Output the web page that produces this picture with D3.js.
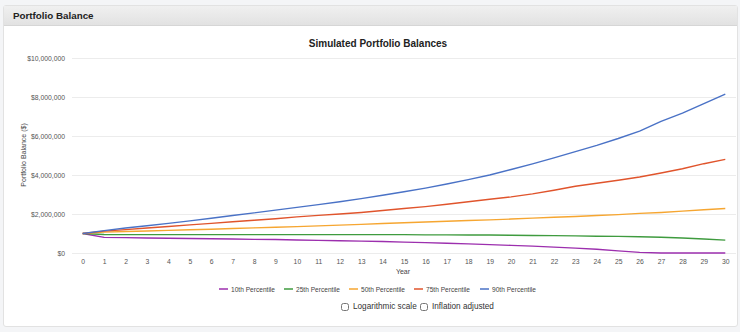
<!DOCTYPE html>
<html><head><meta charset="utf-8">
<script src="https://cdn.jsdelivr.net/npm/d3@7"></script>
<style>
html,body{margin:0;padding:0;background:#f4f5f7;font-family:"Liberation Sans",Arial,Helvetica,sans-serif;}
#wrap{position:relative;width:740px;height:332px;overflow:hidden;}
#panel{position:absolute;left:3px;top:5px;width:733px;height:320px;background:#fff;border:1px solid #e2e2e2;border-radius:3px;}
#head{position:absolute;left:0;top:0;width:733px;height:19px;background:linear-gradient(#f0f0f0,#e2e2e2);border-bottom:1px solid #d6d6d6;}
#head span{position:absolute;left:9px;top:4px;font-size:9.8px;font-weight:bold;color:#222;}
svg{position:absolute;left:0;top:0;}
.cb{position:absolute;top:302px;font-size:8.2px;color:#333;display:flex;align-items:center;white-space:nowrap;}
.cb input{margin:0 4px 0 0;width:8px;height:8px;}
</style></head>
<body><div id="wrap"><div id="panel"><div id="head"><span>Portfolio Balance</span></div></div>
<svg id="chart" width="740" height="332"></svg>
<label class="cb" style="left:341px"><input type="checkbox">Logarithmic scale</label>
<label class="cb" style="left:420px"><input type="checkbox">Inflation adjusted</label>
</div>
<script>
const years = d3.range(0, 31);
const yTicks = [0, 2000000, 4000000, 6000000, 8000000, 10000000];
const seriesNames = ["10th Percentile","25th Percentile","50th Percentile","75th Percentile","90th Percentile"];
const seriesColors = ["#9c2fae","#3f9b3f","#f6a631","#e0542c","#4a72c6"];
const p10 = [1.0,0.8,0.79,0.77,0.76,0.74,0.73,0.72,0.7,0.69,0.67,0.65,0.63,0.61,0.59,0.56,0.53,0.5,0.47,0.43,0.39,0.35,0.3,0.25,0.19,0.11,0.03,0,0,0,0];
const p25 = [1.0,0.95,0.94,0.94,0.94,0.94,0.94,0.94,0.94,0.94,0.94,0.94,0.94,0.94,0.94,0.94,0.93,0.93,0.92,0.92,0.91,0.9,0.89,0.88,0.86,0.85,0.83,0.81,0.77,0.72,0.66];
const p50 = [1.0,1.07,1.1,1.13,1.16,1.19,1.22,1.26,1.29,1.32,1.35,1.39,1.43,1.47,1.51,1.55,1.59,1.63,1.67,1.7,1.74,1.79,1.83,1.87,1.92,1.97,2.03,2.08,2.15,2.22,2.28];
const p75 = [1.0,1.12,1.2,1.28,1.36,1.44,1.52,1.6,1.68,1.76,1.85,1.93,2.0,2.08,2.18,2.28,2.38,2.5,2.63,2.76,2.88,3.03,3.22,3.42,3.58,3.73,3.9,4.1,4.32,4.58,4.8];
const p90 = [1.0,1.15,1.28,1.4,1.52,1.65,1.78,1.92,2.06,2.2,2.34,2.48,2.63,2.79,2.96,3.14,3.33,3.54,3.76,4.0,4.28,4.57,4.88,5.2,5.52,5.87,6.25,6.75,7.17,7.66,8.15];
const seriesValues = [p10,p25,p50,p75,p90]; // millions of dollars

const svg = d3.select("#chart");
const x = d3.scalePoint().domain(years).range([72,736]).padding(0.5);
const y = d3.scaleLinear().domain([0,10000000]).range([253,58]);

svg.append("text").attr("x",378).attr("y",47).attr("text-anchor","middle")
  .attr("font-size",10).attr("font-weight","bold").attr("fill","#222").text("Simulated Portfolio Balances");

// grid
svg.append("g").selectAll("line").data(yTicks).join("line")
  .attr("x1",72).attr("x2",736).attr("y1",d=>y(d)+0.5).attr("y2",d=>y(d)+0.5)
  .attr("stroke","#ececec").attr("stroke-width",1);

const yAxis = svg.append("g").attr("transform","translate(65,0)")
  .call(d3.axisLeft(y).tickValues(yTicks).tickSize(0).tickPadding(0).tickFormat(d=>"$"+d3.format(",")(d)));
yAxis.select(".domain").remove();
yAxis.selectAll("text").attr("font-size",6.8).attr("fill","#555").attr("font-family","Liberation Sans, Arial, sans-serif");

const xAxis = svg.append("g").attr("transform","translate(0,257)")
  .call(d3.axisBottom(x).tickSize(0).tickPadding(2));
xAxis.select(".domain").remove();
xAxis.selectAll("text").attr("font-size",6.8).attr("fill","#555").attr("font-family","Liberation Sans, Arial, sans-serif");

svg.append("text").attr("transform","translate(26,155) rotate(-90)").attr("text-anchor","middle")
  .attr("font-size",7).attr("fill","#444").text("Portfolio Balance ($)");
svg.append("text").attr("x",403).attr("y",274).attr("text-anchor","middle")
  .attr("font-size",7).attr("fill","#444").text("Year");

const line = d3.line().x((d,i)=>x(years[i])).y(d=>y(d*1000000));
svg.append("g").selectAll("path").data(seriesValues).join("path")
  .attr("d",d=>line(d)).attr("fill","none")
  .attr("stroke",(d,i)=>seriesColors[i]).attr("stroke-width",1.4).attr("stroke-linejoin","round");

// legend
const legX = [219,284,349,414,480];
const leg = svg.append("g").selectAll("g").data(seriesNames).join("g")
  .attr("transform",(d,i)=>`translate(${legX[i]},289)`);
leg.append("line").attr("x1",0).attr("x2",9).attr("y1",0).attr("y2",0)
  .attr("stroke",(d,i)=>seriesColors[i]).attr("stroke-width",1.5);
leg.append("text").attr("x",12).attr("y",2.5).attr("font-size",6.6).attr("fill","#444").text(d=>d);
</script></body></html>
